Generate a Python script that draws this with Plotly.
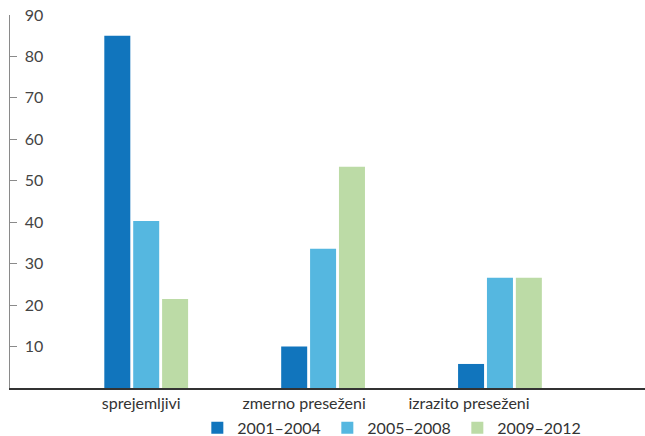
import plotly.graph_objects as go

categories = ["sprejemljivi", "zmerno preseženi", "izrazito preseženi"]
series_names = ["2001–2004", "2005–2008", "2009–2012"]
v_2001_2004 = [85, 10, 5.8]
v_2005_2008 = [40.3, 33.6, 26.6]
v_2009_2012 = [21.5, 53.4, 26.6]
y_ticks = [10, 20, 30, 40, 50, 60, 70, 80, 90]

colors = ["#1175bd", "#55b7e0", "#bcdba6"]
values = [v_2001_2004, v_2005_2008, v_2009_2012]
# small horizontal nudges of the category labels (in category units)
label_nudge = [-0.028, -0.107, -0.175]

xpos = list(range(len(categories)))

fig = go.Figure()
for name, vals, col in zip(series_names, values, colors):
    fig.add_trace(go.Bar(x=xpos, y=vals, name=name, marker_color=col,
                         marker_line_width=0))

fig.update_layout(
    width=645, height=436,
    margin=dict(l=10, r=0, t=15, b=48, autoexpand=False),
    paper_bgcolor="white", plot_bgcolor="white",
    font=dict(family="Lato", size=16, color="#333333"),
    barmode="group", bargap=0.51, bargroupgap=0.1,
    showlegend=True,
    legend=dict(orientation="h", x=0.295, xanchor="left", yref="paper",
                y=-0.107, yanchor="middle", font=dict(size=16),
                bgcolor="rgba(0,0,0,0)",
                entrywidth=85, entrywidthmode="pixels",
                itemclick=False),
)
fig.update_xaxes(type="linear", range=[-0.77, 2.82], showline=True,
                 linecolor="#333333", linewidth=1.5, ticks="", showgrid=False,
                 zeroline=False, automargin=False,
                 tickvals=[p + n for p, n in zip(xpos, label_nudge)],
                 ticktext=categories, tickfont=dict(size=16))
fig.update_yaxes(range=[0, 90], tickvals=y_ticks, showline=True,
                 linecolor="#8a8a8a", linewidth=1, ticks="inside", ticklen=7,
                 tickcolor="#8a8a8a", ticklabelposition="inside",
                 ticklabeloverflow="allow", automargin=False,
                 ticklabelstandoff=8, showgrid=False, zeroline=False,
                 tickfont=dict(size=16))

fig.write_html("out.html", config={"displayModeBar": False},
               post_script="document.body.style.margin='0';document.body.style.overflow='hidden';")
